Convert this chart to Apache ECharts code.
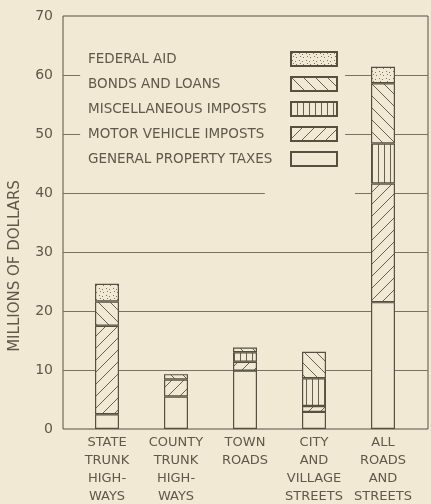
<!DOCTYPE html>
<html>
<head>
  <meta charset="utf-8" />
  <title>Sources of road funds</title>
  <script src="https://cdn.jsdelivr.net/npm/echarts@6/dist/echarts.min.js"></script>
  <style>
    html, body {
      margin: 0;
      padding: 0;
      background: #f2e9d4;
    }
    #main {
      width: 431px;
      height: 504px;
    }
  </style>
</head>
<body>
<div id="main"></div>
<script>
  // data (millions of dollars)
  var categories = ['STATE\nTRUNK\nHIGH-\nWAYS', 'COUNTY\nTRUNK\nHIGH-\nWAYS', 'TOWN\nROADS',
    'CITY\nAND\nVILLAGE\nSTREETS', 'ALL\nROADS\nAND\nSTREETS'];
  var propertyTaxes = [2.5, 5.5, 9.9, 2.9, 21.5];
  var motorImposts = [15.0, 2.9, 1.5, 1.0, 20.1];
  var miscImposts = [0, 0, 1.6, 4.7, 6.8];
  var bondsLoans = [4.1, 0.9, 0.8, 4.5, 10.2];
  var federalAid = [3.0, 0, 0, 0, 2.8];
  var legendNames = ['FEDERAL AID', 'BONDS AND LOANS', 'MISCELLANEOUS IMPOSTS',
    'MOTOR VEHICLE IMPOSTS', 'GENERAL PROPERTY TAXES'];
  var yMin = 0, yMax = 70, yStep = 10;
  // broken grid lines: [from, to, value], from/to as a share of plot width
  var gridSegments = [
    [0, 1, 10], [0, 1, 20], [0, 1, 30],
    [0, 0.553, 40], [0.8, 1, 40],
    [0, 0.047, 50], [0.773, 1, 50],
    [0, 0.047, 60], [0.773, 1, 60]
  ];

  var BG = '#f2e9d4';
  var INK = '#575040';
  var TEXT = '#605848';
  var FONT = 'DejaVu Sans';

  // hatch fills
  function makePattern(kind) {
    var s = kind === 'vert' ? 6 : (kind === 'dots' ? 7 : 12);
    var c = document.createElement('canvas');
    c.width = s;
    c.height = s;
    var g = c.getContext('2d');
    g.fillStyle = BG;
    g.fillRect(0, 0, s, s);
    g.strokeStyle = INK;
    g.fillStyle = INK;
    g.lineWidth = 0.9;
    g.beginPath();
    if (kind === 'slash') {
      g.moveTo(-1, s + 1); g.lineTo(s + 1, -1);
      g.moveTo(-1, 1); g.lineTo(1, -1);
      g.moveTo(s - 1, s + 1); g.lineTo(s + 1, s - 1);
    } else if (kind === 'back') {
      g.moveTo(-1, -1); g.lineTo(s + 1, s + 1);
      g.moveTo(s - 1, -1); g.lineTo(s + 1, 1);
      g.moveTo(-1, s - 1); g.lineTo(1, s + 1);
    } else if (kind === 'vert') {
      g.moveTo(0.5, 0); g.lineTo(0.5, s);
    }
    g.stroke();
    if (kind === 'dots') {
      g.globalAlpha = 0.75;
      g.fillRect(1, 1, 1, 1);
      g.fillRect(4, 2, 1, 1);
      g.fillRect(2, 4, 1, 1);
      g.fillRect(5, 5, 1, 1);
    }
    return { image: c, repeat: 'repeat' };
  }

  var fills = {
    'GENERAL PROPERTY TAXES': BG,
    'MOTOR VEHICLE IMPOSTS': makePattern('slash'),
    'MISCELLANEOUS IMPOSTS': makePattern('vert'),
    'BONDS AND LOANS': makePattern('back'),
    'FEDERAL AID': makePattern('dots')
  };
  var stackData = [
    ['GENERAL PROPERTY TAXES', propertyTaxes],
    ['MOTOR VEHICLE IMPOSTS', motorImposts],
    ['MISCELLANEOUS IMPOSTS', miscImposts],
    ['BONDS AND LOANS', bondsLoans],
    ['FEDERAL AID', federalAid]
  ];

  var series = stackData.map(function (d) {
    return {
      name: d[0],
      type: 'bar',
      stack: 'total',
      xAxisIndex: 1,
      yAxisIndex: 1,
      barWidth: 24,
      z: 3,
      // no segment for a zero amount
      data: d[1].map(function (v) { return v === 0 ? '-' : v; }),
      itemStyle: { color: fills[d[0]], borderColor: INK, borderWidth: 1.2 }
    };
  });

  series.push({
    type: 'lines',
    coordinateSystem: 'cartesian2d',
    xAxisIndex: 0,
    yAxisIndex: 0,
    silent: true,
    z: 1,
    lineStyle: { color: '#7a725f', width: 1, opacity: 1 },
    data: gridSegments.map(function (s) {
      return { coords: [[s[0], s[2]], [s[1], s[2]]] };
    })
  });

  var myChart = echarts.init(document.getElementById('main'));
  var option = {
    backgroundColor: BG,
    animation: false,
    grid: [
      // frame
      { left: 63, right: 3, top: 16, bottom: 75, outerBoundsMode: 'none', containLabel: false,
        show: true, borderColor: INK, borderWidth: 1, backgroundColor: 'transparent' },
      // bars
      { left: 72.5, width: 345, top: 16, bottom: 75, outerBoundsMode: 'none', containLabel: false }
    ],
    xAxis: [
      { gridIndex: 0, type: 'value', min: 0, max: 1, show: false },
      {
        gridIndex: 1, type: 'category', data: categories,
        axisLine: { show: false }, axisTick: { show: false },
        axisLabel: { interval: 0, margin: 5, fontSize: 13, lineHeight: 18, color: TEXT, fontFamily: FONT }
      }
    ],
    yAxis: [
      {
        gridIndex: 0, type: 'value', min: yMin, max: yMax, interval: yStep,
        axisLine: { show: false }, axisTick: { show: false }, splitLine: { show: false },
        axisLabel: { margin: 10, fontSize: 14, color: TEXT, fontFamily: FONT }
      },
      { gridIndex: 1, type: 'value', min: yMin, max: yMax, show: false }
    ],
    legend: {
      data: legendNames,
      orient: 'vertical',
      left: 88,
      top: 51,
      align: 'right',
      icon: 'rect',
      itemWidth: 46,
      itemHeight: 14,
      itemGap: 9,
      padding: 0,
      selectedMode: false,
      formatter: '{t|{name}}',
      textStyle: {
        rich: {
          t: { width: 198, align: 'left', fontSize: 13.5, lineHeight: 14, color: TEXT, fontFamily: FONT }
        }
      }
    },
    graphic: [{
      type: 'text',
      x: 15,
      y: 266,
      rotation: Math.PI / 2,
      style: {
        text: 'MILLIONS OF DOLLARS',
        fill: TEXT,
        font: '15px "DejaVu Sans"',
        align: 'center',
        verticalAlign: 'middle'
      }
    }],
    series: series
  };
  myChart.setOption(option);
</script>
</body>
</html>
